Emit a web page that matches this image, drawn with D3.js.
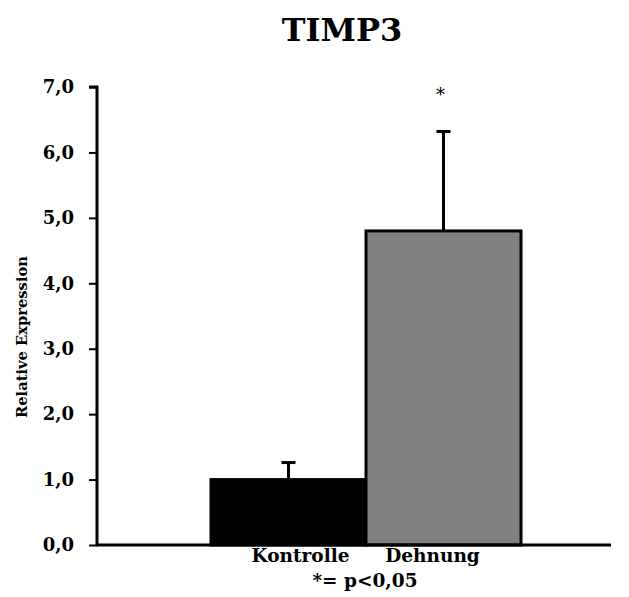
<!DOCTYPE html>
<html><head><meta charset="utf-8">
<script src="https://cdn.jsdelivr.net/npm/d3@7"></script>
<style>body{margin:0;background:#fff}svg{display:block}text{font-family:"DejaVu Serif","Liberation Serif",serif;font-weight:bold}</style>
</head><body>
<script>
const categories = ["Kontrolle", "Dehnung"];
const values = [1.0, 4.8];
const errors = [0.26, 1.52];
const colors = ["#000000", "#808080"];
const yTicks = [0, 1, 2, 3, 4, 5, 6, 7];
const significant = [false, true];

const W = 629, H = 597;
const svg = d3.select("body").append("svg").attr("width", W).attr("height", H);

const y = d3.scaleLinear().domain([0, 7]).range([545, 87]);
const x = d3.scaleBand().domain(categories).range([211, 521]).padding(0);

// bars
svg.selectAll("rect.bar").data(categories).enter().append("rect")
  .attr("x", d => x(d)).attr("width", x.bandwidth())
  .attr("y", (d, i) => y(values[i])).attr("height", (d, i) => y(0) - y(values[i]))
  .attr("fill", (d, i) => colors[i])
  .attr("stroke", "#000").attr("stroke-width", 3);

// error bars
categories.forEach((c, i) => {
  const cx = x(c) + x.bandwidth() / 2;
  svg.append("line").attr("x1", cx).attr("x2", cx)
    .attr("y1", y(values[i])).attr("y2", y(values[i] + errors[i]))
    .attr("stroke", "#000").attr("stroke-width", 3);
  svg.append("line").attr("x1", cx - 7).attr("x2", cx + 7)
    .attr("y1", y(values[i] + errors[i])).attr("y2", y(values[i] + errors[i]))
    .attr("stroke", "#000").attr("stroke-width", 3);
  if (significant[i]) {
    svg.append("text").attr("x", cx - 3).attr("y", 101).attr("text-anchor", "middle")
      .style("font-weight", "normal").style("font-size", "18px").text("*");
  }
});

// y axis
const yAxis = d3.axisLeft(y).tickValues(yTicks).tickSize(8).tickPadding(15)
  .tickFormat(d => d3.format(".1f")(d).replace(".", ","));
const gy = svg.append("g").attr("transform", "translate(97,0)").call(yAxis);
gy.select(".domain").attr("stroke", "#000").attr("stroke-width", 3).attr("d", "M-8,87H0V545");
gy.selectAll(".tick line").attr("stroke", "#000").attr("stroke-width", 2);
gy.selectAll(".tick text").style("font-size", "18px").style("font-family", '"DejaVu Serif",serif').style("font-weight", "bold").attr("fill", "#000");

// x axis line
svg.append("line").attr("x1", 96).attr("x2", 611).attr("y1", 545).attr("y2", 545)
  .attr("stroke", "#000").attr("stroke-width", 3);

// category labels
const labelOffsets = [12, -11];
categories.forEach((c, i) => {
  svg.append("text").attr("x", x(c) + x.bandwidth() / 2 + labelOffsets[i]).attr("y", 562)
    .attr("text-anchor", "middle").style("font-size", "18.5px").text(c);
});
svg.append("text").attr("x", 365).attr("y", 587).attr("text-anchor", "middle")
  .style("font-size", "18.5px").text("*= p<0,05");

// y axis title
svg.append("text").attr("transform", "translate(27,337) rotate(-90)")
  .attr("text-anchor", "middle").style("font-size", "14.7px").text("Relative Expression");

// title
svg.append("text").attr("x", 342).attr("y", 41).attr("text-anchor", "middle")
  .style("font-size", "32px").text("TIMP3");
</script>
</body></html>
